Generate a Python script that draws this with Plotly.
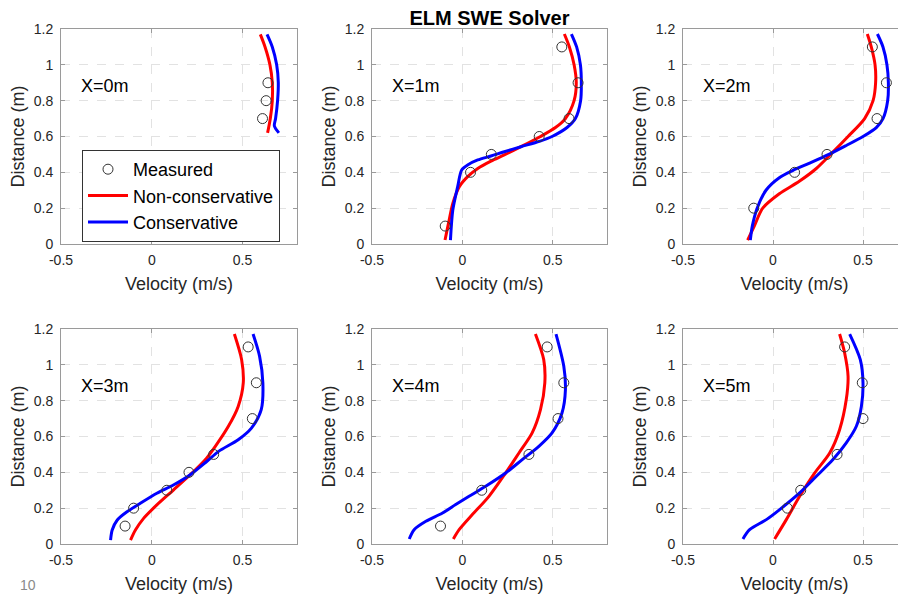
import plotly.graph_objects as go
from plotly.subplots import make_subplots

# ---------------- data ----------------
panel_labels = ["X=0m", "X=1m", "X=2m", "X=3m", "X=4m", "X=5m"]

# X = 0 m
meas_y_0 = [0.7, 0.8, 0.9]
meas_v_0 = [0.61, 0.63, 0.64]
nc_y_0 = [1.17, 1.1, 1.0, 0.9, 0.8, 0.7, 0.62]
nc_v_0 = [0.598, 0.624, 0.651, 0.664, 0.664, 0.653, 0.638]
c_y_0 = [1.17, 1.1, 1.0, 0.9, 0.8, 0.7, 0.66, 0.62]
c_v_0 = [0.635, 0.664, 0.688, 0.697, 0.693, 0.682, 0.675, 0.70]

# X = 1 m
meas_y_1 = [0.1, 0.4, 0.5, 0.6, 0.7, 0.9, 1.1]
meas_v_1 = [-0.095, 0.045, 0.16, 0.425, 0.59, 0.64, 0.55]
nc_y_1 = [1.172, 1.1, 1.0, 0.9, 0.8, 0.7, 0.65, 0.6, 0.543, 0.497, 0.463, 0.422, 0.376, 0.32, 0.227, 0.115, 0.022]
nc_v_1 = [0.564, 0.592, 0.618, 0.63, 0.618, 0.57, 0.515, 0.432, 0.324, 0.232, 0.158, 0.085, 0.029, -0.017, -0.053, -0.077, -0.096]
c_y_1 = [1.172, 1.1, 1.0, 0.9, 0.8, 0.7, 0.65, 0.6, 0.573, 0.543, 0.515, 0.491, 0.469, 0.441, 0.413, 0.32, 0.19, 0.022]
c_v_1 = [0.603, 0.632, 0.653, 0.658, 0.654, 0.625, 0.579, 0.496, 0.426, 0.324, 0.232, 0.158, 0.085, 0.029, -0.004, -0.026, -0.053, -0.066]

# X = 2 m
meas_y_2 = [0.2, 0.4, 0.5, 0.7, 0.9, 1.1]
meas_v_2 = [-0.107, 0.12, 0.30, 0.578, 0.63, 0.552]
nc_y_2 = [1.172, 1.1, 1.0, 0.9, 0.8, 0.7, 0.6, 0.5, 0.42, 0.35, 0.28, 0.2, 0.1, 0.022]
nc_v_2 = [0.524, 0.546, 0.567, 0.57, 0.556, 0.509, 0.417, 0.32, 0.239, 0.146, 0.035, -0.057, -0.104, -0.141]
c_y_2 = [1.172, 1.1, 1.0, 0.9, 0.8, 0.7, 0.65, 0.6, 0.55, 0.5, 0.45, 0.41, 0.37, 0.3, 0.2, 0.1, 0.022]
c_v_2 = [0.58, 0.611, 0.633, 0.641, 0.637, 0.611, 0.574, 0.5, 0.407, 0.31, 0.2, 0.109, 0.035, -0.039, -0.088, -0.115, -0.126]

# X = 3 m
meas_y_3 = [0.1, 0.2, 0.3, 0.4, 0.5, 0.7, 0.9, 1.1]
meas_v_3 = [-0.147, -0.10, 0.083, 0.205, 0.341, 0.554, 0.576, 0.531]
nc_y_3 = [1.172, 1.029, 0.899, 0.768, 0.657, 0.545, 0.478, 0.385, 0.301, 0.218, 0.143, 0.078, 0.022]
nc_v_3 = [0.455, 0.495, 0.504, 0.476, 0.422, 0.35, 0.301, 0.21, 0.119, 0.028, -0.045, -0.09, -0.117]
c_y_3 = [1.172, 1.047, 0.899, 0.75, 0.647, 0.582, 0.517, 0.459, 0.385, 0.329, 0.283, 0.227, 0.18, 0.134, 0.078, 0.022]
c_v_3 = [0.558, 0.594, 0.612, 0.603, 0.549, 0.476, 0.368, 0.301, 0.21, 0.119, 0.028, -0.063, -0.136, -0.19, -0.218, -0.227]

# X = 4 m
meas_y_4 = [0.1, 0.3, 0.5, 0.7, 0.9, 1.1]
meas_v_4 = [-0.121, 0.107, 0.368, 0.529, 0.561, 0.469]
nc_y_4 = [1.172, 1.029, 0.899, 0.75, 0.62, 0.508, 0.396, 0.266, 0.164, 0.08, 0.028]
nc_v_4 = [0.404, 0.45, 0.456, 0.432, 0.386, 0.313, 0.239, 0.147, 0.055, -0.018, -0.05]
c_y_4 = [1.172, 0.992, 0.861, 0.731, 0.62, 0.545, 0.471, 0.396, 0.322, 0.266, 0.22, 0.173, 0.127, 0.08, 0.028]
c_v_4 = [0.518, 0.561, 0.57, 0.551, 0.496, 0.423, 0.331, 0.239, 0.129, 0.037, -0.037, -0.11, -0.202, -0.267, -0.294]

# X = 5 m
meas_y_5 = [0.2, 0.3, 0.5, 0.7, 0.9, 1.1]
meas_v_5 = [0.08, 0.154, 0.356, 0.5, 0.496, 0.398]
nc_y_5 = [1.172, 1.066, 0.936, 0.806, 0.638, 0.508, 0.396, 0.266, 0.136, 0.028]
nc_v_5 = [0.37, 0.398, 0.417, 0.407, 0.37, 0.315, 0.231, 0.148, 0.074, 0.009]
c_y_5 = [1.172, 1.029, 0.899, 0.768, 0.657, 0.564, 0.471, 0.378, 0.285, 0.192, 0.136, 0.08, 0.028]
c_v_5 = [0.426, 0.485, 0.5, 0.491, 0.463, 0.407, 0.333, 0.241, 0.148, 0.037, -0.037, -0.13, -0.167]

meas_v = [meas_v_0, meas_v_1, meas_v_2, meas_v_3, meas_v_4, meas_v_5]
meas_y = [meas_y_0, meas_y_1, meas_y_2, meas_y_3, meas_y_4, meas_y_5]
nc_v = [nc_v_0, nc_v_1, nc_v_2, nc_v_3, nc_v_4, nc_v_5]
nc_y = [nc_y_0, nc_y_1, nc_y_2, nc_y_3, nc_y_4, nc_y_5]
c_v = [c_v_0, c_v_1, c_v_2, c_v_3, c_v_4, c_v_5]
c_y = [c_y_0, c_y_1, c_y_2, c_y_3, c_y_4, c_y_5]

x_ticks = [-0.5, 0, 0.5]
x_ticktext = ["-0.5", "0", "0.5"]
y_ticks = [0, 0.2, 0.4, 0.6, 0.8, 1.0, 1.2]
y_ticktext = ["0", "0.2", "0.4", "0.6", "0.8", "1", "1.2"]

# ---------------- figure ----------------
OFF = 8                      # page body margin in the browser
W, H = 906 - OFF, 596 - OFF
FONT = "Arial, Liberation Sans, sans-serif"
fig = make_subplots(rows=2, cols=3)

for i in range(6):
    r, c = i // 3 + 1, i % 3 + 1
    first = i == 0
    fig.add_trace(go.Scatter(x=nc_v[i], y=nc_y[i], mode="lines", name="Non-conservative",
                             line=dict(color="#ff0000", width=3, shape="spline", smoothing=0.8),
                             showlegend=first, legendrank=2), row=r, col=c)
    fig.add_trace(go.Scatter(x=c_v[i], y=c_y[i], mode="lines", name="Conservative",
                             line=dict(color="#0000ff", width=3, shape="spline", smoothing=0.8),
                             showlegend=first, legendrank=3), row=r, col=c)
    fig.add_trace(go.Scatter(x=meas_v[i], y=meas_y[i], mode="markers", name="Measured",
                             marker=dict(symbol="circle-open", size=10, color="#333333",
                                         line=dict(width=1, color="#333333")),
                             showlegend=first, legendrank=1), row=r, col=c)

# target pixel boxes in the screenshot
xdom = [(61, 297), (372, 607), (683, 906)]
ydom = [(29, 244), (329, 544)]

def px_x(p):
    return (p - OFF) / W

def px_y(p):
    return 1 - (p - OFF) / H

for i in range(6):
    r, c = i // 3, i % 3
    n = i + 1
    xa = "xaxis" if n == 1 else f"xaxis{n}"
    ya = "yaxis" if n == 1 else f"yaxis{n}"
    x0, x1 = xdom[c]
    y0, y1 = ydom[r]
    xr = [-0.5, 0.8] if c < 2 else [-0.5, -0.5 + (x1 - x0) / 180.0]
    fig.layout[xa].update(
        domain=[px_x(x0), min(1.0, px_x(x1))], range=xr, tickvals=x_ticks, ticktext=x_ticktext,
        showline=True, linecolor="#9a9a9a", linewidth=1, mirror="ticks",
        ticks="inside", ticklen=4, tickcolor="#9a9a9a",
        showgrid=True, gridcolor="#e2e2e2", griddash="dash", gridwidth=1,
        zeroline=False, tickfont=dict(size=14, color="#262626", family=FONT),
        ticklabelstandoff=3,
        title=dict(text="Velocity (m/s)", font=dict(size=18, color="#262626", family=FONT), standoff=10),
        automargin=False,
    )
    fig.layout[ya].update(
        domain=[px_y(y1), px_y(y0)], range=[0, 1.2], tickvals=y_ticks, ticktext=y_ticktext,
        showline=True, linecolor="#9a9a9a", linewidth=1, mirror=("ticks" if c < 2 else False),
        ticks="inside", ticklen=4, tickcolor="#9a9a9a",
        showgrid=True, gridcolor="#e2e2e2", griddash="dash", gridwidth=1,
        zeroline=False, tickfont=dict(size=14, color="#262626", family=FONT),
        ticklabelstandoff=4,
        title=dict(text="Distance (m)", font=dict(size=18, color="#262626", family=FONT), standoff=4),
        automargin=False,
    )
    fig.add_annotation(x=-0.4, y=0.88, xref=f"x{'' if n == 1 else n}", yref=f"y{'' if n == 1 else n}",
                       text=panel_labels[i], showarrow=False, xanchor="left", yanchor="middle",
                       font=dict(size=18, color="#000000", family=FONT))

fig.add_annotation(x=px_x(28), y=px_y(585), xref="paper", yref="paper", text="10",
                   showarrow=False, xanchor="center", yanchor="middle",
                   font=dict(size=14, color="#8a8a8a", family=FONT))

fig.update_layout(
    width=W, height=H, margin=dict(l=0, r=0, t=0, b=0),
    paper_bgcolor="white", plot_bgcolor="white",
    font=dict(family=FONT, color="#262626"),
    title=dict(text="<b>ELM SWE Solver</b>", x=px_x(489.5), xanchor="center", y=px_y(18), yanchor="middle",
               font=dict(size=20, color="#000000", family=FONT)),
    legend=dict(x=px_x(82), y=px_y(150), xanchor="left", yanchor="top",
                bgcolor="white", bordercolor="#333333", borderwidth=1,
                font=dict(size=18, color="#000000", family=FONT),
                tracegroupgap=0, itemwidth=40),
    showlegend=True,
)

fig.write_html("out.html")
